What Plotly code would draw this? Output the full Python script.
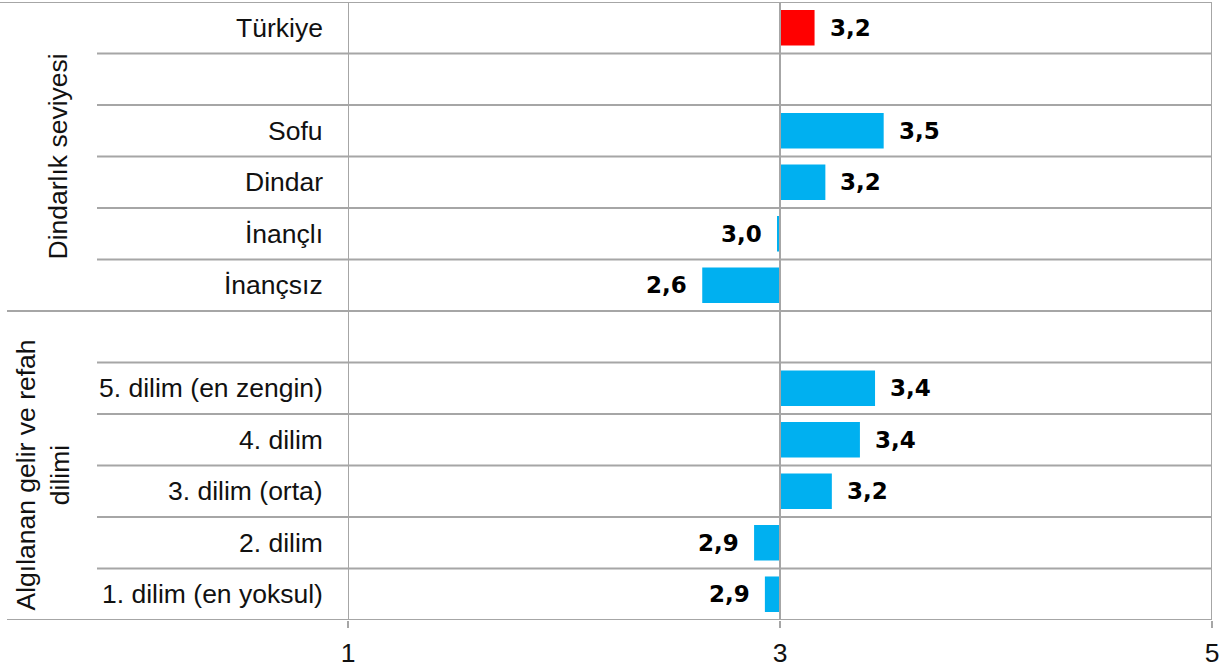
import plotly.graph_objects as go

# Row labels, top to bottom (blank rows separate the groups)
categories = [
    "Türkiye", "", "Sofu", "Dindar", "İnançlı", "İnançsız", "",
    "5. dilim (en zengin)", "4. dilim", "3. dilim (orta)", "2. dilim",
    "1. dilim (en yoksul)",
]
# Average scores per row (None = empty spacer row)
values = [3.16, None, 3.48, 3.21, 2.986, 2.64, None, 3.44, 3.37, 3.24, 2.88, 2.93]
# Row groups: (label, first row, last row)
groups = [
    ("Dindarlık seviyesi", 0, 5),
    ("Algılanan gelir ve refah<br>dilimi", 6, 11),
]
x_ticks = [1, 3, 5]
baseline = 3

RED = "#FF0000"
BLUE = "#00B0F0"
GRID = "#A6A6A6"
TEXT_FONT = "Liberation Sans"
LABEL_FONT = "DejaVu Sans"
TEXT_SIZE = 26.5

W, H = 1231, 672
M_L, M_R, M_T, M_B = 348, 19, 2, 52
plot_w = W - M_L - M_R


def px_to_paper_x(px):
    return (px - M_L) / plot_w


rows = [i for i, v in enumerate(values) if v is not None]
vals = [values[i] for i in rows]
colors = [RED if categories[i] == "Türkiye" else BLUE for i in rows]

fig = go.Figure()
fig.add_trace(go.Bar(
    orientation="h",
    y=rows,
    x=[v - baseline for v in vals],
    base=baseline,
    width=0.69,
    marker=dict(color=colors, line=dict(width=0)),
    hoverinfo="skip",
))

shapes = []
# horizontal row separators
n = len(categories)
group_starts = {g[1] for g in groups}
for k in range(n + 1):
    y = k - 0.5
    if k == 0:
        x0 = px_to_paper_x(0)
    elif k in group_starts or k == n:
        x0 = px_to_paper_x(7)
    else:
        x0 = px_to_paper_x(97)
    shapes.append(dict(type="line", xref="paper", yref="y", x0=x0, x1=1,
                       y0=y, y1=y, line=dict(color=GRID, width=2), layer="above"))
# vertical gridlines
for t in x_ticks:
    shapes.append(dict(type="line", xref="x", yref="paper", x0=t, x1=t,
                       y0=0, y1=1, line=dict(color=GRID, width=2), layer="above"))

annotations = []
# row labels
for i, c in enumerate(categories):
    if not c:
        continue
    annotations.append(dict(
        x=0, xref="paper", y=i, yref="y", text=c, showarrow=False,
        xanchor="right", yanchor="middle", xshift=-23,
        font=dict(family=TEXT_FONT, size=TEXT_SIZE, color="#111111"),
    ))
# value labels
for i, v in zip(rows, vals):
    pos = v >= baseline
    annotations.append(dict(
        x=v, xref="x", y=i, yref="y",
        text="<b>" + f"{v:.1f}".replace(".", ",") + "</b>",
        showarrow=False, xanchor="left" if pos else "right", yanchor="middle",
        xshift=13 if pos else -13,
        font=dict(family=LABEL_FONT, size=23, color="#000000"),
    ))
# group labels
group_x = [57, 42]
group_y_shift = [0, -10]
for (label, r0, r1), gx, gy in zip(groups, group_x, group_y_shift):
    annotations.append(dict(
        x=px_to_paper_x(gx), xref="paper", y=(r0 + r1) / 2, yref="y",
        yshift=gy,
        text=label, showarrow=False, textangle=-90,
        xanchor="center", yanchor="middle",
        font=dict(family=TEXT_FONT, size=TEXT_SIZE, color="#111111"),
    ))

fig.update_layout(
    width=W, height=H,
    margin=dict(l=M_L, r=M_R, t=M_T, b=M_B),
    paper_bgcolor="white", plot_bgcolor="white",
    showlegend=False,
    shapes=shapes,
    annotations=annotations,
    xaxis=dict(
        range=[x_ticks[0], x_ticks[-1]], tickvals=x_ticks,
        showgrid=False, zeroline=False, showline=False,
        ticks="outside", ticklen=7, tickwidth=2, tickcolor=GRID,
        ticklabelstandoff=2,
        tickfont=dict(family=TEXT_FONT, size=TEXT_SIZE, color="#111111"),
    ),
    yaxis=dict(
        range=[n - 0.5, -0.5], showticklabels=False,
        showgrid=False, zeroline=False, showline=False, ticks="",
    ),
)

fig.write_html("out.html")
